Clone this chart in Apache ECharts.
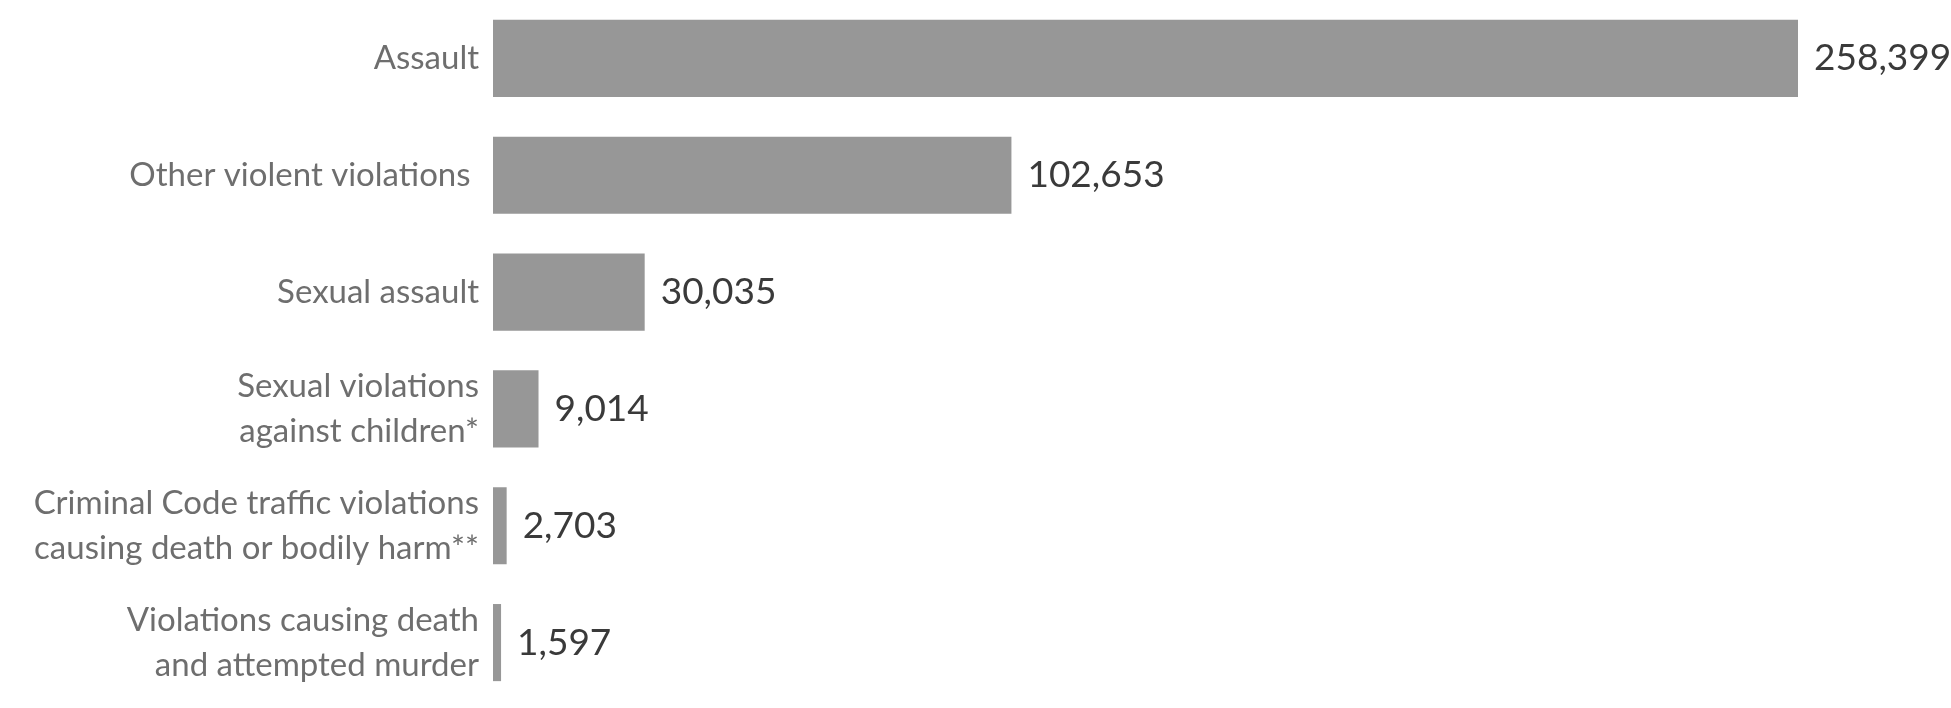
<!DOCTYPE html>
<html>
<head>
<meta charset="utf-8">
<script src="https://cdn.jsdelivr.net/npm/echarts@6/dist/echarts.min.js"></script>
<style>
  html, body { margin: 0; padding: 0; background: #fff; }
  #chart { width: 1951px; height: 708px; }
</style>
</head>
<body>
<div id="chart"></div>
<script>
// categories, top to bottom
var categories = [
  'Assault',
  'Other violent violations ',
  'Sexual assault',
  'Sexual violations\nagainst children*',
  'Criminal Code traffic violations\ncausing death or bodily harm**',
  'Violations causing death\nand attempted murder'
];
var counts = [258399, 102653, 30035, 9014, 2703, 1597];

var FONT = 'Lato, "Open Sans", sans-serif';

var chart = echarts.init(document.getElementById('chart'));
chart.setOption({
  animation: false,
  grid: { left: 493, right: 153, top: -1, bottom: 7, containLabel: false },
  xAxis: {
    type: 'value',
    min: 0,
    max: 'dataMax',
    show: false
  },
  yAxis: {
    type: 'category',
    inverse: true,
    data: categories,
    axisLine: { show: false },
    axisTick: { show: false },
    axisLabel: {
      margin: 14,
      color: '#6e6e6e',
      fontFamily: FONT,
      fontSize: 33,
      lineHeight: 45,
      align: 'right'
    }
  },
  series: [
    {
      type: 'bar',
      data: counts,
      barCategoryGap: '34%',
      itemStyle: { color: '#979797' },
      label: {
        show: true,
        position: 'right',
        distance: 16,
        color: '#3a3a3a',
        fontFamily: FONT,
        fontSize: 37,
        formatter: function (p) {
          return echarts.format.addCommas(p.value);
        }
      }
    }
  ]
});
</script>
</body>
</html>
